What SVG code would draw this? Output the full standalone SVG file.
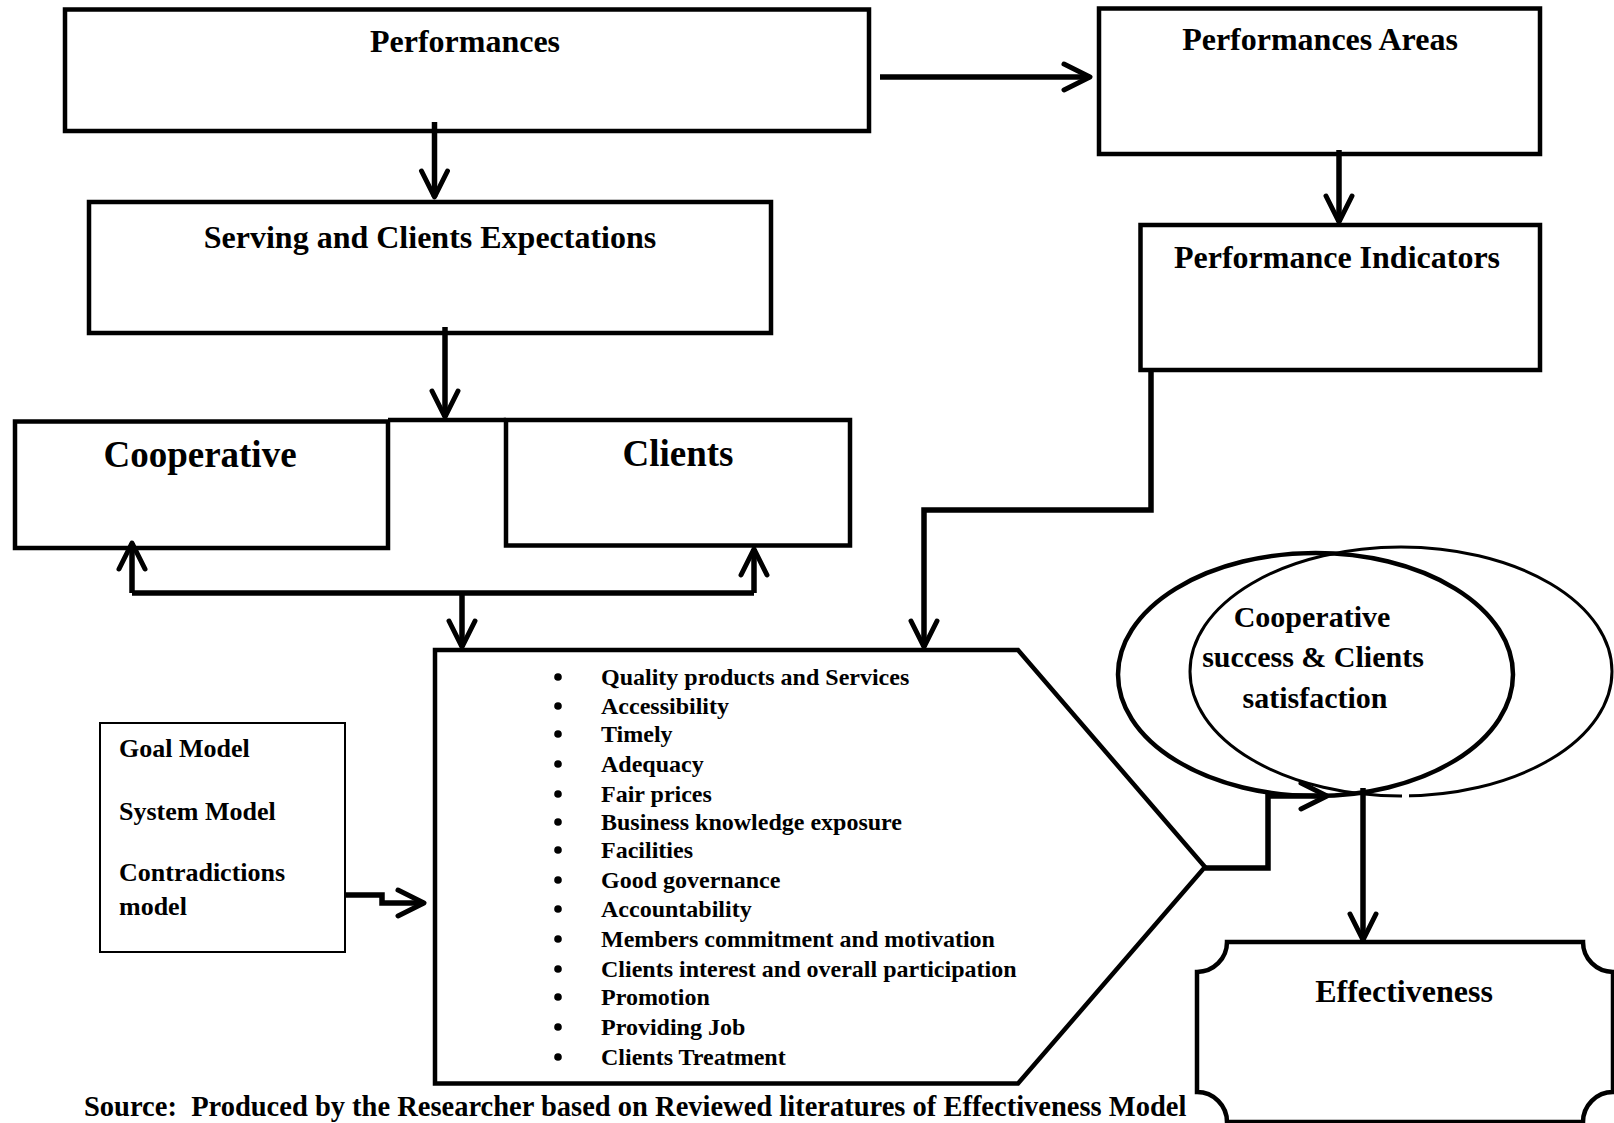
<svg xmlns="http://www.w3.org/2000/svg" width="1614" height="1123" viewBox="0 0 1614 1123">
<style>
.box{fill:#fff;stroke:#000;stroke-width:4.5}
.thin{fill:#fff;stroke:#000;stroke-width:2}
.conn{fill:none;stroke:#000;stroke-width:5.5}
.ell1{fill:none;stroke:#000;stroke-width:4.5}
.ell2{fill:none;stroke:#000;stroke-width:3}
.t{font-family:"Liberation Serif","Times New Roman",serif;font-weight:bold;fill:#000}
.c{text-anchor:middle}
.s32{font-size:32px}
.s37{font-size:37px}
.s30{font-size:30px}
.s26{font-size:26px}
.s24{font-size:24px}
</style>
<defs>
<marker id="ah" markerUnits="userSpaceOnUse" markerWidth="40" markerHeight="40" refX="0" refY="0" orient="auto" overflow="visible">
<path d="M-26,-13 L0,0 L-26,13" fill="none" stroke="#000" stroke-width="5" stroke-linecap="round" stroke-linejoin="round"/>
</marker>
</defs>
<rect width="1614" height="1123" fill="#fff"/>

<text class="t" x="84" y="1116" font-size="28.5" xml:space="preserve">Source:  Produced by the Researcher based on Reviewed literatures of Effectiveness Model</text>

<g id="performances">
<rect class="box" x="65" y="9.5" width="804" height="121.5"/>
<text class="t c s32" x="465" y="52">Performances</text>
</g>
<g id="serving">
<rect class="box" x="89" y="202" width="682" height="131"/>
<text class="t c s32" x="430" y="248">Serving and Clients Expectations</text>
</g>
<g id="areas">
<rect class="box" x="1099" y="8.5" width="441" height="145.5"/>
<text class="t c s32" x="1320" y="50">Performances Areas</text>
</g>
<g id="indicators">
<rect class="box" x="1140.5" y="225" width="399.5" height="145"/>
<text class="t c s32" x="1337" y="268">Performance Indicators</text>
</g>
<g id="cooperative">
<rect class="box" x="15" y="421.5" width="373" height="126.5"/>
<text class="t c s37" x="200" y="467">Cooperative</text>
</g>
<g id="clients">
<rect class="box" x="506" y="420" width="344" height="125.5"/>
<text class="t c s37" x="678" y="466">Clients</text>
</g>
<g id="models">
<rect class="thin" x="100" y="723" width="245" height="229"/>
<text class="t s26" x="119" y="757">Goal Model</text>
<text class="t s26" x="119" y="820">System Model</text>
<text class="t s26" x="119" y="881">Contradictions</text>
<text class="t s26" x="119" y="915">model</text>
</g>
<g id="factors">
<polygon class="box" points="435,650 1018,650 1205,867 1018,1083.5 435,1083.5"/>
<g fill="#000">
<circle cx="558" cy="677" r="3.8"/><circle cx="558" cy="706" r="3.8"/><circle cx="558" cy="734" r="3.8"/><circle cx="558" cy="764" r="3.8"/><circle cx="558" cy="794" r="3.8"/><circle cx="558" cy="822" r="3.8"/><circle cx="558" cy="850" r="3.8"/><circle cx="558" cy="880" r="3.8"/><circle cx="558" cy="909" r="3.8"/><circle cx="558" cy="939" r="3.8"/><circle cx="558" cy="969" r="3.8"/><circle cx="558" cy="997" r="3.8"/><circle cx="558" cy="1027" r="3.8"/><circle cx="558" cy="1057" r="3.8"/>
</g>
<text class="t s24" x="601" y="685">Quality products and Services</text>
<text class="t s24" x="601" y="714">Accessibility</text>
<text class="t s24" x="601" y="742">Timely</text>
<text class="t s24" x="601" y="772">Adequacy</text>
<text class="t s24" x="601" y="802">Fair prices</text>
<text class="t s24" x="601" y="830">Business knowledge exposure</text>
<text class="t s24" x="601" y="858">Facilities</text>
<text class="t s24" x="601" y="888">Good governance</text>
<text class="t s24" x="601" y="917">Accountability</text>
<text class="t s24" x="601" y="947">Members commitment and motivation</text>
<text class="t s24" x="601" y="977">Clients interest and overall participation</text>
<text class="t s24" x="601" y="1005">Promotion</text>
<text class="t s24" x="601" y="1035">Providing Job</text>
<text class="t s24" x="601" y="1065">Clients Treatment</text>
</g>
<g id="success">
<ellipse class="ell2" cx="1401" cy="671.5" rx="211" ry="124.5"/>
<rect x="1402" y="789" width="7" height="10" fill="#fff"/>
<ellipse class="ell1" cx="1315.5" cy="674.5" rx="197.5" ry="121.5"/>
<text class="t c s30" x="1312" y="627">Cooperative</text>
<text class="t c s30" x="1313" y="667">success &amp; Clients</text>
<text class="t c s30" x="1315" y="708">satisfaction</text>
</g>
<g id="effectiveness">
<path class="box" d="M1227,942 H1583 A30,30 0 0 0 1613,972 V1092 A30,30 0 0 0 1583,1122 H1227 A30,30 0 0 0 1197,1092 V972 A30,30 0 0 0 1227,942 Z" fill="none"/>
<text class="t c s32" x="1404" y="1002">Effectiveness</text>
</g>

<g id="connectors">
<path class="conn" d="M880,77 H1090" marker-end="url(#ah)"/>
<path class="conn" d="M434.5,122 V197" marker-end="url(#ah)"/>
<path class="conn" d="M1339,150 V222" marker-end="url(#ah)"/>
<path class="conn" d="M445,327 V417" marker-end="url(#ah)"/>
<path class="box" d="M388,420 H506"/>
<path class="conn" d="M132,593 H754"/>
<path class="conn" d="M132,593 V543" marker-end="url(#ah)"/>
<path class="conn" d="M754,593 V549" marker-end="url(#ah)"/>
<path class="conn" d="M462,593 V647" marker-end="url(#ah)"/>
<path class="conn" d="M1151,368 V510 H924 V647" marker-end="url(#ah)"/>
<path class="conn" d="M345,895 H382 V903 H424" stroke-width="6.5" marker-end="url(#ah)"/>
<path class="conn" d="M1205,868 H1268 V796 H1327" marker-end="url(#ah)"/>
<path class="conn" d="M1363,788 V940" marker-end="url(#ah)"/>
</g>
</svg>
